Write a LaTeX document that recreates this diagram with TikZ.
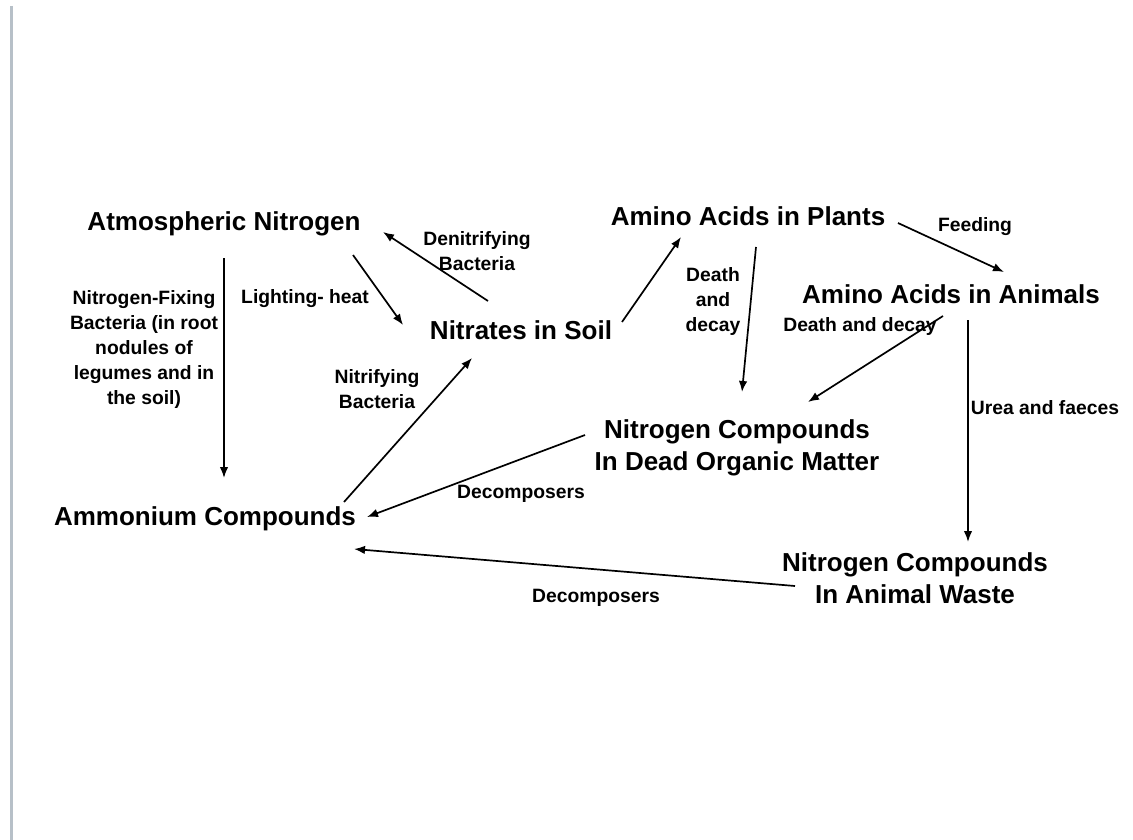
\documentclass[tikz,border=0pt]{standalone}
\usepackage{fontspec}
\setmainfont{Liberation Sans}
\usepackage{tikz}
\usetikzlibrary{arrows.meta}
\usetikzlibrary{positioning}

\tikzset{
  pool/.style={font=\fontsize{26}{31.5}\selectfont\bfseries,align=center,inner sep=0pt},
  flow/.style={font=\fontsize{19.3}{25}\selectfont\bfseries,align=center,inner sep=0pt},
}

\begin{document}
\begin{tikzpicture}[x=1pt,y=-1pt,->,>={Latex[length=11pt,width=8.5pt]},line width=1.7pt]

\useasboundingbox[fill=white] (0,0) rectangle (1133,840);
\draw[-,line width=3pt,draw={rgb,255:red,183;green,192;blue,200}] (11,6) -- (11,840);

% Nitrogen pools
\node[pool] (atm) at (224,224) {Atmospheric Nitrogen};
\node[pool] (nit) at (521,330) {Nitrates in Soil};
\node[pool] (pla) at (748,216) {Amino Acids in Plants};
\node[pool] (ani) at (951,294) {Amino Acids in Animals};
\node[pool] (dom) at (737,448) {Nitrogen Compounds\\In Dead Organic Matter};
\node[pool] (amm) at (205,519) {Ammonium Compounds};
\node[pool] (was) at (915,578) {Nitrogen Compounds\\In Animal Waste};

% Processes
\node[flow] (fixlbl) at (144,350) {Nitrogen-Fixing\\Bacteria (in root\\nodules of\\legumes and in\\the soil)};
\node[flow] (ltlbl) at (305,299) {Lighting- heat};
\node[flow] (denlbl) at (477,251) {Denitrifying\\Bacteria};
\node[flow] (nitrlbl) at (377,389) {Nitrifying\\Bacteria};
\node[flow] (pdlbl) at (713,302) {Death\\and\\decay};
\node[flow] (adlbl) at (860,327) {Death and decay};
\node[flow] (feedlbl) at (975,227) {Feeding};
\node[flow] (urealbl) at (1045,408) {Urea and faeces};
\node[flow] (dec1lbl) at (521,494) {Decomposers};
\node[flow] (dec2lbl) at (596,598) {Decomposers};

% Arrows between pools
\path ([shift={(0,34)}]atm.center) edge ([shift={(19,-41)}]amm.center);
\path ([shift={(129,31)}]atm.center) edge ([shift={(-118,-5)}]nit.center);
\path ([shift={(-33,-29)}]nit.center) edge ([shift={(159,8)}]atm.center);
\path ([shift={(139,-17)}]amm.center) edge ([shift={(-49,28)}]nit.center);
\path ([shift={(101,-8)}]nit.center) edge ([shift={(-67,21)}]pla.center);
\path ([shift={(8,31)}]pla.center) edge ([shift={(5,-56)}]dom.center);
\path ([shift={(150,7)}]pla.center) edge ([shift={(53,-22)}]ani.center);
\path ([shift={(-8,22)}]ani.center) edge ([shift={(71,-46)}]dom.center);
\path ([shift={(17,26)}]ani.center) edge ([shift={(53,-36)}]was.center);
\path ([shift={(-152,-13)}]dom.center) edge ([shift={(162,-2)}]amm.center);
\path ([shift={(-120,8)}]was.center) edge ([shift={(149,30)}]amm.center);

\end{tikzpicture}
\end{document}
